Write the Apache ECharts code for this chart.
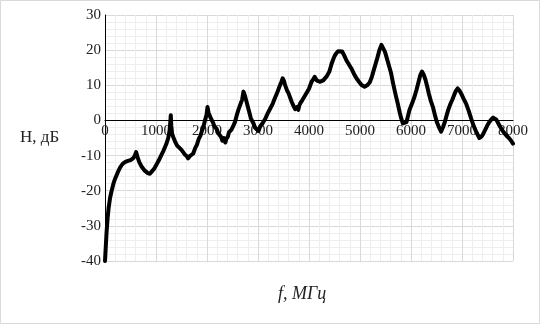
<!DOCTYPE html>
<html>
<head>
<meta charset="utf-8">
<script src="https://cdn.jsdelivr.net/npm/echarts@6/dist/echarts.min.js"></script>
<style>
  html, body { margin: 0; padding: 0; background: #fff; }
  #chart { width: 540px; height: 324px; }
</style>
</head>
<body>
<div id="chart"></div>
<script>
// Frequency response: frequency (MHz) and gain (dB)
const freqMHz = [
  0, 15, 30, 50, 70, 100, 130, 165, 200, 250, 300, 350, 400, 450, 500, 550, 580, 610, 640, 670,
  720, 780, 840, 880, 920, 960, 1000, 1050, 1100, 1150, 1200, 1240, 1265, 1280, 1290, 1300, 1315, 1340, 1380, 1420,
  1460, 1500, 1530, 1560, 1600, 1630, 1660, 1690, 1730, 1770, 1800, 1840, 1870, 1900, 1930, 1960, 1990, 2010, 2030, 2050,
  2070, 2090, 2110, 2150, 2190, 2220, 2250, 2280, 2300, 2330, 2360, 2380, 2410, 2430, 2460, 2480, 2520, 2550, 2590, 2620,
  2660, 2690, 2715, 2740, 2770, 2810, 2860, 2910, 2940, 2970, 3010, 3040, 3070, 3090, 3140, 3190, 3240, 3290, 3330, 3380,
  3420, 3460, 3485, 3510, 3530, 3570, 3600, 3630, 3660, 3700, 3730, 3760, 3790, 3810, 3830, 3870, 3920, 3960, 4000, 4050,
  4080, 4110, 4150, 4180, 4210, 4245, 4280, 4310, 4350, 4400, 4440, 4470, 4500, 4535, 4570, 4600, 4650, 4690, 4730, 4780,
  4830, 4880, 4930, 4980, 5030, 5090, 5140, 5190, 5230, 5260, 5300, 5340, 5380, 5420, 5450, 5490, 5520, 5560, 5610, 5650,
  5700, 5740, 5780, 5810, 5840, 5875, 5910, 5940, 5970, 6020, 6070, 6110, 6140, 6180, 6215, 6250, 6285, 6320, 6350, 6390,
  6430, 6470, 6505, 6550, 6590, 6630, 6660, 6700, 6730, 6770, 6810, 6850, 6880, 6915, 6950, 6985, 7030, 7080, 7130, 7180,
  7230, 7280, 7340, 7380, 7410, 7450, 7490, 7530, 7570, 7610, 7635, 7670, 7700, 7740, 7780, 7820, 7870, 7920, 7960, 8000
];
const gainDb = [
  -40, -36, -32, -28, -25, -22, -20, -18, -16.5, -14.8, -13.3, -12.3, -11.8, -11.5, -11.3, -10.8, -10.2, -9, -10.5, -11.8,
  -13.2, -14.3, -15, -15.2, -14.5, -13.8, -12.8, -11.5, -10, -8.5, -6.8, -5, -3, -0.5, 1.5, -1.5, -3.8, -4.8, -6.2, -7.3,
  -7.8, -8.4, -8.9, -9.6, -10.1, -10.8, -10.2, -10.6, -9.4, -7.8, -7, -5.2, -4.4, -3, -1.8, 0, 1.5, 3.8, 2.2, 2.6,
  0.8, 1.2, -0.4, -1.8, -2.4, -3.6, -3.2, -4.8, -5.8, -5, -6.3, -5.2, -4.6, -3.4, -3.8, -2.6, -1.4, -0.4, 1.8, 3.2,
  4.8, 6, 8.2, 7.2, 5.6, 3.4, 0.6, -0.8, -2, -2.5, -3, -1.8, -2, -0.8, 0.4, 2, 3.4, 4.8, 6.3, 8,
  9.6, 11, 12, 11.2, 10.1, 8.5, 7.7, 6.5, 5.3, 4, 3.2, 3.8, 3, 4.3, 4.9, 5.8, 7, 8, 9, 11,
  11.6, 12.4, 11.4, 11.8, 11, 10.6, 11.4, 11.5, 12.6, 13.9, 16, 17.2, 18.3, 19.1, 19.7, 20, 19.6, 18.5, 17.2, 16,
  14.8, 13.3, 12, 11, 10.1, 9.6, 10, 10.8, 12.3, 13.8, 15.8, 17.8, 20, 21.5, 21, 19.5, 18, 16, 13.4, 10.5,
  7.2, 4.8, 2.2, 0.5, -0.8, -1.2, -0.5, 1.2, 3, 4.8, 6.8, 8.8, 10.5, 12.8, 13.9, 13, 11.5, 9.5, 7.6, 5.5,
  3.8, 1.5, -0.4, -2, -3.2, -1.8, -0.6, 1.5, 3, 4.6, 5.9, 7.4, 8.4, 9.1, 8.5, 7.6, 6.2, 4.8, 2.8, 0.5,
  -1.6, -3.3, -5, -4.6, -4, -2.8, -1.6, -0.6, 0.2, 0.8, 1, 0.3, -0.5, -1.6, -2.6, -3.4, -4.3, -5, -5.7, -6.6
];
const xTicks = { min: 0, max: 8000, step: 1000 };
const yTicks = { min: -40, max: 30, step: 10 };
const yTitle = 'H, дБ';
const xTitle = 'f, МГц';

const points = freqMHz.map((f, i) => [f, gainDb[i]]);
const serif = '"Liberation Serif", "DejaVu Serif", serif';

const gridTop = 15, gridBottom = 63, chartH = 324;
// The frequency labels sit just under the 0 dB line
const plotH = chartH - gridTop - gridBottom;
const zeroOffset = plotH * (0 - yTicks.min) / (yTicks.max - yTicks.min);

const chart = echarts.init(document.getElementById('chart'), null, { renderer: 'canvas' });
chart.setOption({
  animation: false,
  backgroundColor: '#fff',
  grid: { left: 105, right: 27, top: gridTop, bottom: gridBottom, containLabel: false },
  xAxis: {
    type: 'value',
    min: xTicks.min, max: xTicks.max, interval: xTicks.step,
    axisLine: { show: true, onZero: true, lineStyle: { color: '#000', width: 1 } },
    axisTick: { show: false },
    minorTick: { show: false, splitNumber: 5 },
    axisLabel: { fontFamily: serif, fontSize: 15, color: '#222', margin: 3 - zeroOffset,
                 formatter: v => String(v) },
    splitLine: { show: true, lineStyle: { color: '#d9d9d9', width: 1 } },
    minorSplitLine: { show: true, lineStyle: { color: '#eeeeee', width: 1 } }
  },
  yAxis: {
    type: 'value',
    min: yTicks.min, max: yTicks.max, interval: yTicks.step,
    axisLine: { show: true, lineStyle: { color: '#000', width: 1 } },
    axisTick: { show: false },
    minorTick: { show: false, splitNumber: 5 },
    axisLabel: { fontFamily: serif, fontSize: 15, color: '#222', margin: 4 },
    splitLine: { show: true, lineStyle: { color: '#d9d9d9', width: 1 } },
    minorSplitLine: { show: true, lineStyle: { color: '#eeeeee', width: 1 } }
  },
  graphic: [
    { type: 'rect', silent: true, shape: { x: 0.5, y: 0.5, width: 539, height: 323 },
      style: { fill: 'none', stroke: '#d9d9d9', lineWidth: 1 } },
    { type: 'text', left: 20, top: 129,
      style: { text: yTitle, font: '17px ' + serif, fill: '#222' } },
    { type: 'text', left: 278, top: 285,
      style: { text: xTitle, font: 'italic 18px ' + serif, fill: '#222' } }
  ],
  series: [{
    type: 'line',
    data: points,
    showSymbol: false,
    smooth: false,
    lineStyle: { color: '#000', width: 4, join: 'round', cap: 'round' },
    z: 5
  }]
});
</script>
</body>
</html>
